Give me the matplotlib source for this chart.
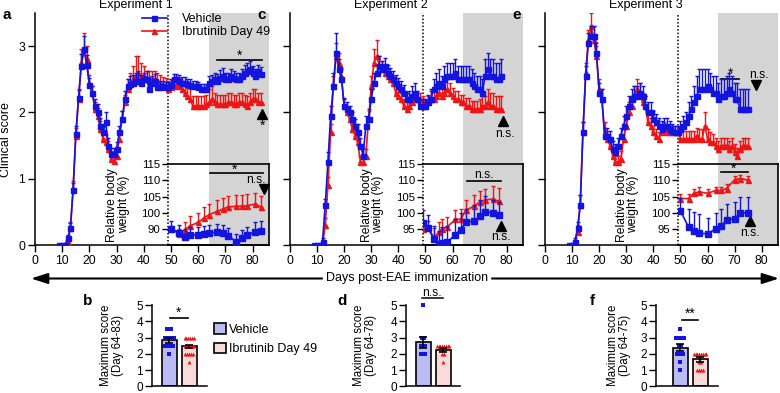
import matplotlib
matplotlib.use('Agg')
import matplotlib.pyplot as plt
from matplotlib.lines import Line2D
from matplotlib.patches import Patch
import numpy as np

plt.rcParams['font.family'] = ['Liberation Sans', 'DejaVu Sans']
plt.rcParams['font.size'] = 9
plt.rcParams['axes.linewidth'] = 1.1

W, H = 780, 393
BLUE = '#1414e0'
RED = '#f01414'
GREY = '#d4d4d4'
VEH_FILL = '#babaf5'
IBR_FILL = '#fcdada'

# ---------------- clinical scores (mean, upper SEM) ----------------
# Experiment 1 : days 9..83
days_a = np.arange(9, 84)
veh_a = [0, 0, 0, 0.1, 0.25, 0.83, 1.67, 2.22, 2.7, 2.95,
         2.72, 2.42, 2.3, 2.1, 2.0, 1.8, 1.7, 1.85, 1.5, 1.37,
         1.37, 1.45, 1.7, 1.9, 2.2, 2.4, 2.43, 2.45, 2.47, 2.48,
         2.45, 2.5, 2.5, 2.35, 2.45, 2.48, 2.38, 2.38, 2.4, 2.38,
         2.38, 2.42, 2.5, 2.5, 2.48, 2.45, 2.45, 2.43, 2.42, 2.4,
         2.4, 2.38, 2.35, 2.35, 2.35, 2.45, 2.47, 2.5, 2.48, 2.52,
         2.55, 2.5, 2.5, 2.55, 2.52, 2.5, 2.5, 2.55, 2.6, 2.62,
         2.65, 2.6, 2.55, 2.62, 2.58]
veh_a_err = [0, 0, 0, 0.05, 0.08, 0.1, 0.12, 0.12, 0.18, 0.2,
             0.15, 0.1, 0.1, 0.1, 0.12, 0.12, 0.12, 0.15, 0.12, 0.1,
             0.1, 0.1, 0.1, 0.12, 0.12, 0.1, 0.12, 0.12, 0.12, 0.15,
             0.12, 0.1, 0.12, 0.1, 0.1, 0.1, 0.1, 0.1, 0.08, 0.08,
             0.08, 0.08, 0.08, 0.08, 0.08, 0.08, 0.08, 0.08, 0.08, 0.08,
             0.08, 0.08, 0.08, 0.08, 0.08, 0.1, 0.1, 0.1, 0.1, 0.12,
             0.12, 0.1, 0.1, 0.1, 0.1, 0.1, 0.1, 0.1, 0.12, 0.12,
             0.12, 0.1, 0.1, 0.1, 0.1]
ibr_a = [0, 0, 0, 0.05, 0.25, 0.85, 1.65, 2.2, 2.75, 2.95,
         2.8, 2.45, 2.3, 2.05, 1.95, 1.75, 1.6, 1.55, 1.45, 1.3,
         1.27, 1.35, 1.6, 1.9, 2.15, 2.35, 2.45, 2.5, 2.55, 2.6,
         2.55, 2.55, 2.5, 2.5, 2.5, 2.5, 2.47, 2.45, 2.42, 2.4,
         2.35, 2.38, 2.4, 2.42, 2.4, 2.35, 2.3, 2.25, 2.2, 2.1,
         2.1, 2.1, 2.1, 2.1, 2.12, 2.15, 2.2, 2.15, 2.12, 2.12,
         2.12, 2.12, 2.15, 2.15, 2.12, 2.12, 2.15, 2.15, 2.12, 2.1,
         2.15, 2.2, 2.2, 2.15, 2.15]
ibr_a_err = [0, 0, 0, 0.05, 0.1, 0.12, 0.12, 0.15, 0.2, 0.25,
             0.2, 0.12, 0.1, 0.1, 0.12, 0.12, 0.12, 0.12, 0.12, 0.12,
             0.1, 0.12, 0.12, 0.12, 0.12, 0.15, 0.15, 0.2, 0.3, 0.25,
             0.2, 0.15, 0.12, 0.12, 0.12, 0.12, 0.12, 0.12, 0.12, 0.12,
             0.12, 0.12, 0.12, 0.12, 0.12, 0.12, 0.12, 0.12, 0.15, 0.15,
             0.15, 0.15, 0.15, 0.15, 0.15, 0.2, 0.2, 0.15, 0.15, 0.15,
             0.15, 0.15, 0.15, 0.15, 0.15, 0.15, 0.15, 0.15, 0.15, 0.15,
             0.15, 0.15, 0.15, 0.15, 0.15]

# Experiment 2 : days 9..78
days_c = np.arange(9, 79)
veh_c = [0, 0, 0, 0.05, 0.6, 1.25, 1.95, 2.4, 2.9, 2.65,
         2.5, 2.1, 2.05, 2.0, 1.9, 1.8, 1.7, 1.5, 1.35, 1.8,
         1.9, 2.2, 2.45, 2.6, 2.7, 2.65, 2.7, 2.6, 2.55, 2.5,
         2.45, 2.4, 2.35, 2.3, 2.2, 2.2, 2.25, 2.3, 2.2, 2.1,
         2.1, 2.1, 2.15, 2.2, 2.35, 2.4, 2.45, 2.4, 2.5, 2.55,
         2.55, 2.55, 2.6, 2.5, 2.5, 2.5, 2.5, 2.5, 2.45, 2.4,
         2.35, 2.35, 2.3, 2.55, 2.65, 2.55, 2.55, 2.5, 2.5, 2.55]
veh_c_err = [0, 0, 0, 0.05, 0.1, 0.15, 0.15, 0.2, 0.3, 0.15,
             0.15, 0.12, 0.1, 0.1, 0.1, 0.1, 0.12, 0.12, 0.12, 0.15,
             0.15, 0.15, 0.15, 0.12, 0.15, 0.12, 0.12, 0.12, 0.12, 0.12,
             0.12, 0.12, 0.12, 0.12, 0.1, 0.12, 0.15, 0.15, 0.12, 0.1,
             0.1, 0.1, 0.12, 0.15, 0.15, 0.2, 0.2, 0.15, 0.2, 0.2,
             0.2, 0.2, 0.2, 0.2, 0.2, 0.2, 0.2, 0.2, 0.2, 0.2,
             0.2, 0.2, 0.2, 0.25, 0.25, 0.25, 0.25, 0.25, 0.25, 0.25]
ibr_c = [0, 0, 0, 0, 0.3, 0.9, 1.7, 2.4, 2.85, 2.75,
         2.55, 2.1, 2.0, 1.9, 1.75, 1.65, 1.55, 1.25, 1.25, 1.35,
         1.9, 2.4, 2.75, 2.85, 2.7, 2.65, 2.6, 2.55, 2.5, 2.45,
         2.3, 2.25, 2.2, 2.1, 2.05, 2.1, 2.15, 2.2, 2.2, 2.2,
         2.15, 2.1, 2.15, 2.2, 2.2, 2.25, 2.3, 2.25, 2.3, 2.35,
         2.3, 2.25, 2.2, 2.2, 2.15, 2.15, 2.1, 2.1, 2.05, 2.05,
         2.05, 2.05, 2.1, 2.1, 2.15, 2.1, 2.1, 2.05, 2.05, 2.05]
ibr_c_err = [0, 0, 0, 0, 0.1, 0.12, 0.12, 0.15, 0.2, 0.15,
             0.12, 0.1, 0.1, 0.1, 0.1, 0.1, 0.1, 0.1, 0.1, 0.1,
             0.12, 0.15, 0.2, 0.25, 0.15, 0.12, 0.12, 0.1, 0.1, 0.1,
             0.1, 0.1, 0.1, 0.1, 0.1, 0.1, 0.1, 0.1, 0.1, 0.1,
             0.1, 0.1, 0.1, 0.12, 0.12, 0.12, 0.12, 0.15, 0.15, 0.15,
             0.15, 0.12, 0.12, 0.12, 0.12, 0.12, 0.12, 0.12, 0.12, 0.12,
             0.12, 0.15, 0.15, 0.15, 0.2, 0.2, 0.2, 0.2, 0.2, 0.2]

# Experiment 3 : days 9..75
days_e = np.arange(9, 76)
veh_e = [0, 0, 0.05, 0.25, 0.6, 1.7, 2.55, 3.05, 3.15, 3.15,
         2.9, 2.3, 2.2, 1.65, 1.65, 1.6, 1.45, 1.4, 1.5, 1.65,
         1.8, 1.95, 2.1, 2.2, 2.25, 2.25, 2.3, 2.25, 2.1, 2.0,
         2.0, 1.9, 1.85, 1.8, 1.75, 1.8, 1.8, 1.75, 1.72, 1.7,
         1.7, 1.75, 1.8, 1.85, 1.95, 2.05, 2.15, 2.25, 2.35, 2.35,
         2.35, 2.4, 2.35, 2.3, 2.3, 2.2, 2.25, 2.25, 2.3, 2.35,
         2.3, 2.2, 2.2, 2.05, 2.05, 2.05, 2.05]
veh_e_err = [0, 0, 0.05, 0.1, 0.15, 0.15, 0.15, 0.15, 0.15, 0.15,
             0.15, 0.15, 0.15, 0.12, 0.12, 0.12, 0.12, 0.12, 0.12, 0.12,
             0.15, 0.15, 0.15, 0.15, 0.15, 0.15, 0.15, 0.15, 0.15, 0.15,
             0.15, 0.12, 0.12, 0.12, 0.12, 0.12, 0.12, 0.12, 0.1, 0.1,
             0.1, 0.12, 0.15, 0.15, 0.2, 0.2, 0.25, 0.3, 0.3, 0.3,
             0.3, 0.25, 0.25, 0.25, 0.25, 0.25, 0.25, 0.25, 0.25, 0.25,
             0.25, 0.25, 0.25, 0.3, 0.3, 0.3, 0.3]
ibr_e = [0, 0, 0, 0.2, 0.6, 1.7, 2.6, 3.1, 3.3, 3.1,
         2.85, 2.35, 2.2, 1.7, 1.6, 1.5, 1.35, 1.25, 1.25, 1.3,
         1.6, 1.8, 2.0, 2.1, 2.25, 2.35, 2.3, 2.15, 2.1, 1.85,
         1.8, 1.7, 1.65, 1.6, 1.7, 1.75, 1.7, 1.7, 1.7, 1.7,
         1.7, 1.6, 1.6, 1.6, 1.6, 1.6, 1.6, 1.65, 1.6, 1.6,
         1.8, 1.6, 1.55, 1.55, 1.5, 1.45, 1.5, 1.5, 1.5, 1.45,
         1.5, 1.4, 1.35, 1.45, 1.5, 1.5, 1.5]
ibr_e_err = [0, 0, 0, 0.1, 0.15, 0.15, 0.15, 0.15, 0.2, 0.2,
             0.15, 0.15, 0.15, 0.15, 0.12, 0.12, 0.12, 0.1, 0.1, 0.12,
             0.15, 0.15, 0.15, 0.15, 0.15, 0.15, 0.15, 0.15, 0.15, 0.12,
             0.12, 0.1, 0.1, 0.1, 0.1, 0.1, 0.1, 0.1, 0.1, 0.1,
             0.1, 0.12, 0.12, 0.12, 0.12, 0.12, 0.12, 0.12, 0.15, 0.15,
             0.2, 0.15, 0.15, 0.12, 0.12, 0.12, 0.12, 0.12, 0.12, 0.12,
             0.12, 0.12, 0.12, 0.12, 0.12, 0.12, 0.12]

# ---------------- relative body weight insets ----------------
wdays_a = [50, 53, 55, 57, 60, 62, 64, 67, 69, 71, 74, 76, 78, 81, 83]
wveh_a = [90.0, 87.7, 84.8, 86.3, 86.3, 86.7, 87.3, 88.1, 87.3, 85.6, 82.1, 84.2, 86.3, 88.1, 88.8]
wveh_a_err = [5, 5, 5, 5, 5, 5, 5, 5, 5, 5, 5, 5, 5, 6, 6]
wibr_a = [90.0, 86.9, 89.4, 91.9, 94.0, 96.7, 98.8, 100.4, 101.1, 101.8, 102.0, 102.0, 102.2, 102.7, 101.8]
wibr_a_err = [2, 3, 5, 6, 6, 5, 4, 3.5, 3.5, 3.5, 3.5, 3.5, 3.5, 3.5, 3.5]

wdays_c = [49, 51, 53, 55, 56, 58, 61, 63, 65, 68, 70, 72, 75, 77]
wveh_c = [96.7, 95.2, 92.0, 90.3, 90.5, 90.8, 93.2, 94.8, 97.1, 97.4, 99.0, 100.2, 100.0, 99.2]
wveh_c_err = [4, 4, 4, 4, 5, 5, 5, 5, 4, 5, 5, 5, 4, 4]
wibr_c = [95.0, 95.5, 92.4, 94.0, 95.0, 95.6, 97.9, 98.0, 100.8, 102.0, 103.3, 104.0, 104.2, 103.6]
wibr_c_err = [2, 2, 3, 3, 3, 3, 3, 3, 3, 3.5, 3.5, 3.5, 4, 4]

wdays_e = [50, 53, 55, 57, 60, 63, 65, 67, 70, 72, 75]
wveh_e = [100.6, 95.5, 94.2, 93.6, 93.5, 95.0, 96.0, 97.6, 98.2, 99.9, 100.0]
wveh_e_err = [4, 5.5, 6, 6, 5, 5, 5, 5, 5, 5, 5]
wibr_e = [104.4, 104.4, 106.0, 106.5, 106.0, 106.9, 106.9, 107.5, 110.2, 110.6, 110.1]
wibr_e_err = [1.5, 1.5, 1.5, 1.5, 1.5, 1.2, 1.2, 1.5, 1.2, 1.2, 1.2]

# ---------------- maximum score bars ----------------
b_bars, b_sem = [2.82, 2.45], [0.15, 0.12]
b_veh = [3.5, 3.5, 3.5, 3.0, 3.0, 3.0, 3.0, 3.0, 3.0, 2.5, 2.5, 2.5, 2.5, 2.5, 2.0]
b_ibr = [3.0, 3.0, 3.0, 3.0, 3.0, 3.0, 2.5, 2.5, 2.5, 2.5, 2.5, 2.5, 2.0, 2.0, 2.0, 2.0, 2.0, 1.5]
d_bars, d_sem = [2.7, 2.25], [0.32, 0.12]
d_veh = [5.0, 3.0, 3.0, 2.5, 2.5, 2.5, 2.0, 2.0, 2.0]
d_ibr = [2.5, 2.5, 2.5, 2.5, 2.5, 2.5, 2.5, 2.5, 2.0, 2.0, 1.5]
f_bars, f_sem = [2.37, 1.65], [0.22, 0.13]
f_veh = [3.5, 3.0, 3.0, 3.0, 3.0, 3.0, 2.5, 2.5, 2.0, 2.0, 2.0, 2.0, 1.5, 1.0]
f_ibr = [2.0, 2.0, 2.0, 2.0, 2.0, 2.0, 2.0, 2.0, 1.5, 1.5, 1.0, 1.0, 1.0, 1.0]

fig = plt.figure(figsize=(W / 100, H / 100), dpi=100)


def px_axes(l, t, w, h, **kw):
    return fig.add_axes([l / W, 1 - (t + h) / H, w / W, h / H], **kw)


def ftext(x, y, s, **kw):
    fig.text(x / W, 1 - y / H, s, **kw)


# overlay used for the long arrow below the top row
ov = px_axes(0, 0, W, H)
ov.set_xlim(0, W)
ov.set_ylim(H, 0)
ov.axis('off')
arrow = dict(arrowstyle='-|>,head_length=1.0,head_width=0.32', color='k', lw=1.5,
             shrinkA=0, shrinkB=0, mutation_scale=10)
ov.annotate('', xy=(31, 278.5), xytext=(322, 278.5), arrowprops=arrow)
ov.annotate('', xy=(779, 278.5), xytext=(492, 278.5), arrowprops=arrow)
ov.text(407, 278.5, 'Days post-EAE immunization', ha='center', va='center', fontsize=9)


def errline(ax, x, y, err, color, marker, ms=3.6, z=3):
    ax.errorbar(x, y, yerr=[np.zeros(len(err)), err], fmt='-', marker=marker, ms=ms,
                color=color, lw=1.2, elinewidth=1.0, capsize=1.6, capthick=1.0, zorder=z)


def main_panel(left, width, days, veh, veh_err, ibr, ibr_err, title, letter, ylabels):
    ax = px_axes(left, 13, width, 232)
    ax.axvspan(64, 86, color=GREY, lw=0, zorder=0)
    ax.axvline(49, color='k', ls=(0, (1, 1.3)), lw=1.1, zorder=1)
    errline(ax, days, ibr, ibr_err, RED, '^', z=3)
    errline(ax, days, veh, veh_err, BLUE, 's', z=4)
    ax.set_xlim(0, 86)
    ax.set_ylim(0, 3.5)
    ax.set_xticks(range(0, 81, 10))
    ax.set_yticks([0, 1, 2, 3])
    if not ylabels:
        ax.set_yticklabels([])
    ax.spines[['top', 'right']].set_visible(False)
    ax.tick_params(direction='out', length=5, width=1.0, labelsize=8.7, pad=2)
    ax.text(0.432, 1.034, title, transform=ax.transAxes, ha='center', va='center', fontsize=9)
    ftext(left - 28, 15, letter, fontsize=11, fontweight='bold', ha='center', va='center')
    return ax


def inset(ax_main, left, width, wd, wv, wv_err, wi, wi_err, broken=False):
    il = left + 49 / 86 * width
    ax = px_axes(il, 164.3, left + width - il, 80.7)
    ax.patch.set_alpha(0)
    errline(ax, wd, wi, wi_err, RED, '^', ms=3.6, z=3)
    errline(ax, wd, wv, wv_err, BLUE, 's', ms=3.8, z=4)
    ax.set_xlim(49, 86)
    if broken:
        fwd = lambda y: np.where(np.asarray(y) >= 100, y, 100 - (100 - np.asarray(y)) * 0.5)
        inv = lambda y: np.where(np.asarray(y) >= 100, y, 100 - (100 - np.asarray(y)) * 2)
        ax.set_yscale('function', functions=(fwd, inv))
        ax.set_ylim(80, 115)
        ax.set_yticks([90, 100, 105, 110, 115])
    else:
        ax.set_ylim(90, 115)
        ax.set_yticks([95, 100, 105, 110, 115])
    ax.yaxis.set_major_formatter(matplotlib.ticker.FormatStrFormatter('%d'))
    ax.yaxis.set_minor_locator(matplotlib.ticker.NullLocator())
    ax.set_xticks([])
    ax.spines['left'].set_visible(False)
    for s in ['top', 'right', 'bottom']:
        ax.spines[s].set_linewidth(1.2)
    ax.tick_params(axis='y', direction='out', length=4, width=1.0, labelsize=8.2, pad=1.5)
    ax.set_ylabel('Relative body\nweight (%)', fontsize=8.7, linespacing=0.95)
    ax.yaxis.set_label_coords(-0.385, 0.5)
    return ax


ax_a = main_panel(35, 234, days_a, veh_a, veh_a_err, ibr_a, ibr_a_err, 'Experiment 1', 'a', True)
ax_a.set_ylabel('Clinical score', fontsize=9)
ax_a.yaxis.set_label_coords(-0.1, 0.455)
ax_c = main_panel(290, 233, days_c, veh_c, veh_c_err, ibr_c, ibr_c_err, 'Experiment 2', 'c', False)
ax_e = main_panel(545, 233, days_e, veh_e, veh_e_err, ibr_e, ibr_e_err, 'Experiment 3', 'e', False)

leg = ax_a.legend([Line2D([], [], color=BLUE, marker='s', ms=3.6, lw=1.2),
                   Line2D([], [], color=RED, marker='^', ms=3.6, lw=1.2)],
                  ['Vehicle', 'Ibrutinib Day 49'], loc='upper left', bbox_to_anchor=(0.456, 1.0),
                  frameon=False, borderpad=0, borderaxespad=0, handlelength=2.0,
                  handletextpad=1.2, labelspacing=0.12, fontsize=9)

# significance marks on the clinical score panels
ax_a.plot([67, 83.5], [2.79, 2.79], color='k', lw=1.2, clip_on=False)
ax_a.text(75.2, 2.86, '*', ha='center', va='center', fontsize=10)
ax_a.plot([days_a[-1] + 0.5], [1.97], marker='^', color='k', ms=7.5, clip_on=False)
ax_a.text(days_a[-1] + 0.8, 1.8, '*', ha='center', va='center', fontsize=10)

ax_c.plot([days_c[-1] + 0.7], [1.87], marker='^', color='k', ms=7.5, clip_on=False)
ax_c.text(days_c[-1] + 1.3, 1.68, 'n.s.', ha='center', va='center', fontsize=8.7)

ax_e.plot([65, 71.7], [2.51, 2.51], color='k', lw=1.2)
ax_e.text(68.3, 2.58, '*', ha='center', va='center', fontsize=10)
ax_e.plot([77.9], [2.42], marker='v', color='k', ms=7.5)
ax_e.text(78.8, 2.57, 'n.s.', ha='center', va='center', fontsize=8.7)

in_a = inset(ax_a, 35, 234, wdays_a, wveh_a, wveh_a_err, wibr_a, wibr_a_err, broken=True)
in_a.plot([64.3, 83.7], [112.4, 112.4], color='k', lw=1.2)
in_a.text(73.5, 113.4, '*', ha='center', va='center', fontsize=10)
in_a.text(81.3, 110.0, 'n.s.', ha='center', va='center', fontsize=8.7)
in_a.plot([84.0], [107.2], marker='v', color='k', ms=7.5, clip_on=False)

in_c = inset(ax_c, 290, 233, wdays_c, wveh_c, wveh_c_err, wibr_c, wibr_c_err)
in_c.plot([65.2, 77.7], [109.8, 109.8], color='k', lw=1.2)
in_c.text(71.5, 111.6, 'n.s.', ha='center', va='center', fontsize=8.7)
in_c.plot([77.7], [96.0], marker='^', color='k', ms=7.5)
in_c.text(77.9, 92.5, 'n.s.', ha='center', va='center', fontsize=8.7)

in_e = inset(ax_e, 545, 233, wdays_e, wveh_e, wveh_e_err, wibr_e, wibr_e_err)
in_e.plot([65, 75], [112.5, 112.5], color='k', lw=1.2)
in_e.text(69.5, 113.6, '*', ha='center', va='center', fontsize=10)
in_e.plot([75.6], [97.4], marker='^', color='k', ms=7.5)
in_e.text(75.6, 93.7, 'n.s.', ha='center', va='center', fontsize=8.7)


def spread(vals, center, step=0.09):
    vals = np.asarray(vals)
    xs = np.zeros(len(vals))
    for v in np.unique(vals):
        idx = np.where(vals == v)[0]
        xs[idx] = center + (np.arange(len(idx)) - (len(idx) - 1) / 2) * step
    return xs


def bar_panel(left, width, xlo, bars, sem, veh_pts, ibr_pts, letter, ylab, lab_x):
    ax = px_axes(left, 305, width, 81.3)
    ax.bar([0, 1], bars, width=0.75, color=[VEH_FILL, IBR_FILL], edgecolor='k', lw=1.2, zorder=1)
    ax.plot(spread(veh_pts, 0), veh_pts, 's', color=BLUE, ms=2.6, mew=0, zorder=2, clip_on=False)
    ax.plot(spread(ibr_pts, 1), ibr_pts, '^', color=RED, ms=2.8, mew=0, zorder=2, clip_on=False)
    ax.errorbar([0, 1], bars, yerr=sem, fmt='none', ecolor='k', elinewidth=1.2,
                capsize=3, capthick=1.2, zorder=3)
    ax.set_xlim(xlo, xlo + width / 20)
    ax.set_ylim(0, 5)
    ax.set_yticks(range(6))
    ax.set_xticks([])
    ax.spines[['top', 'right']].set_visible(False)
    ax.tick_params(direction='out', length=5, width=1.0, labelsize=8.5, pad=1.5)
    ftext(lab_x, 345, ylab, rotation=90, ha='center', va='center', fontsize=8.3, linespacing=1.05)
    ftext(left - 64, 301, letter, fontsize=11, fontweight='bold', ha='center', va='center')
    return ax


ax_b = bar_panel(152, 55, -0.85, b_bars, b_sem, b_veh, b_ibr, 'b', 'Maximum score\n(Day 64-83)', 112)
ax_b.plot([0.05, 0.97], [4.23, 4.23], color='k', lw=1.2)
ax_b.text(0.5, 4.55, '*', ha='center', va='center', fontsize=10)

ax_d = bar_panel(406, 54, -0.85, d_bars, d_sem, d_veh, d_ibr, 'd', 'Maximum score\n(Day 64-78)', 365)
ax_d.plot([-0.05, 1.0], [5.4, 5.4], color='k', lw=1.1, clip_on=False)
ax_d.text(0.47, 5.75, 'n.s.', ha='center', va='center', fontsize=8.7, clip_on=False)

ax_f = bar_panel(656, 62, -1.2, f_bars, f_sem, f_veh, f_ibr, 'f', 'Maximum score\n(Day 64-75)', 619)
ax_f.plot([0.08, 0.9], [4.1, 4.1], color='k', lw=1.2)
ax_f.text(0.49, 4.45, '**', ha='center', va='center', fontsize=10)

fig.legend([Patch(facecolor=VEH_FILL, edgecolor='k', lw=1.2),
            Patch(facecolor=IBR_FILL, edgecolor='k', lw=1.2)],
           ['Vehicle', 'Ibrutinib Day 49'], loc='upper left', bbox_to_anchor=(214 / W, 1 - 323 / H),
           frameon=False, borderpad=0, borderaxespad=0, handlelength=0.95, handleheight=0.95,
           handletextpad=0.25, labelspacing=0.55, fontsize=9)

fig.savefig('out.png', dpi=100)
